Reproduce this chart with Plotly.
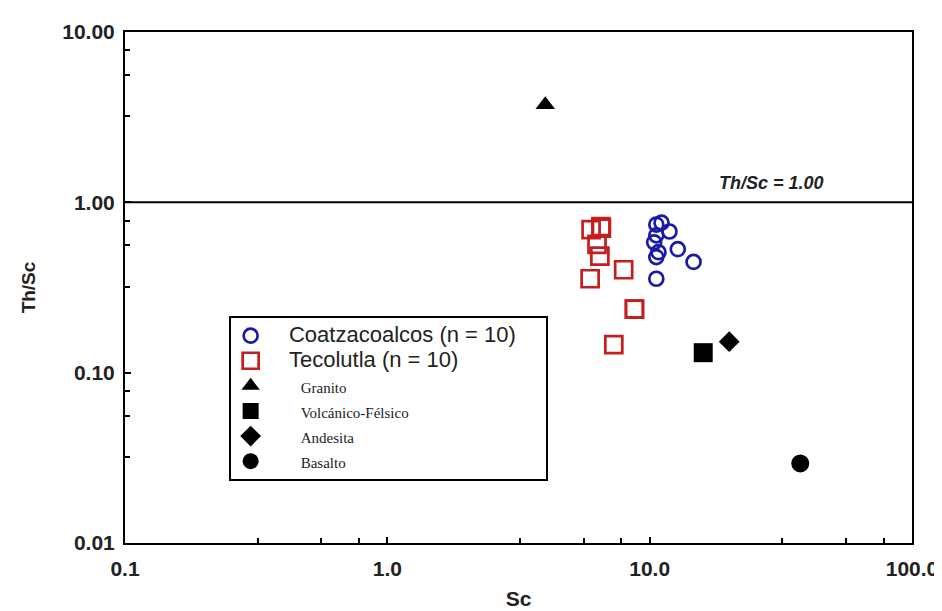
import plotly.graph_objects as go

# Data
coatza_sc = [10.6, 11.1, 11.9, 10.6, 10.4, 12.8, 10.6, 14.7, 10.6, 10.8]
coatza_thsc = [0.74, 0.76, 0.674, 0.64, 0.582, 0.531, 0.477, 0.447, 0.356, 0.51]

teco_sc = [5.98, 6.52, 6.55, 6.30, 6.46, 7.96, 5.93, 8.75, 8.75, 7.30]
teco_thsc = [0.692, 0.72, 0.705, 0.567, 0.483, 0.402, 0.356, 0.236, 0.236, 0.146]

ref_names = ["Granito", "Volcánico-Félsico", "Andesita", "Basalto"]
ref_sc = [4.0, 16.0, 20.1, 37.5]
ref_thsc = [3.74, 0.131, 0.152, 0.0293]
ref_symbols = ["triangle-up", "square", "diamond", "circle"]
ref_sizes = [17, 19, 16, 18]

x_tickvals = [0.1, 1, 10, 100]
x_ticktext = ["0.1", "1.0", "10.0", "100.0"]
y_tickvals = [0.01, 0.1, 1, 10]
y_ticktext = ["0.01", "0.10", "1.00", "10.00"]
minor_factors = [3.2, 5.6, 7.8]

NB = "&nbsp;"


def big(name):
    return f'<span style="font-size:22px">{NB*3}{name}{NB*4}</span>'


def small(name):
    return f'<span style="font-family:Liberation Serif;font-size:15px">{NB*8}{name}</span>'


fig = go.Figure()

fig.add_trace(go.Scatter(
    x=coatza_sc, y=coatza_thsc, mode="markers", name=big("Coatzacoalcos (n = 10)"),
    marker=dict(symbol="circle-open", size=14, color="#1a1aa8", line=dict(width=2.7, color="#1a1aa8")),
))
fig.add_trace(go.Scatter(
    x=teco_sc, y=teco_thsc, mode="markers", name=big("Tecolutla (n = 10)"),
    marker=dict(symbol="square-open", size=17, color="#c41e1e", line=dict(width=2.7, color="#c41e1e")),
))
for n, xs, ys, sym, sz in zip(ref_names, ref_sc, ref_thsc, ref_symbols, ref_sizes):
    fig.add_trace(go.Scatter(
        x=[xs], y=[ys], mode="markers", name=small(n),
        marker=dict(symbol=sym, size=sz, color="black"),
    ))

# Th/Sc = 1 reference line
fig.add_shape(type="line", xref="paper", x0=0, x1=1, yref="y", y0=1, y1=1,
              line=dict(color="black", width=2))
fig.add_annotation(x=0.822, xref="paper", xanchor="center", y=0, yref="y", yshift=7,
                   text="<b><i>Th/Sc = 1.00</i></b>", showarrow=False,
                   font=dict(family="Liberation Sans", size=18, color="#222"),
                   yanchor="bottom")

minor_x = [f * 10 ** e for e in (-1, 0, 1) for f in minor_factors]
minor_y = [f * 10 ** e for e in (-2, -1, 0) for f in minor_factors]

axis_common = dict(
    type="log", showgrid=False, zeroline=False, showline=True, linecolor="black",
    linewidth=2, mirror=True, ticks="inside", ticklen=6, tickwidth=1.5, tickcolor="black",
    tickfont=dict(family="Liberation Sans", size=21, color="#222", weight="bold"),
)

fig.update_xaxes(
    **axis_common, range=[-1, 2], tickvals=x_tickvals, ticktext=x_ticktext,
    ticklabelstandoff=6,
    minor=dict(tickvals=minor_x, ticks="inside", ticklen=5, tickcolor="black"),
    title=dict(text="<b>Sc</b>", font=dict(family="Liberation Sans", size=21, color="#222"), standoff=12),
)
fig.update_yaxes(
    **axis_common, range=[-2, 1], tickvals=y_tickvals, ticktext=y_ticktext,
    ticklabelstandoff=4,
    minor=dict(tickvals=minor_y, ticks="inside", ticklen=5, tickcolor="black"),
    title=dict(text="<b>Th/Sc</b>", font=dict(family="Liberation Sans", size=19, color="#222"), standoff=22),
)

fig.update_layout(
    width=942, height=611,
    margin=dict(l=117, r=28, t=19, b=72),
    plot_bgcolor="white", paper_bgcolor="white",
    legend=dict(
        x=0.1317, y=0.444, xanchor="left", yanchor="top",
        bordercolor="black", borderwidth=2, bgcolor="white",
        font=dict(family="Liberation Sans", size=17, color="#222"),
        itemsizing="trace", tracegroupgap=0,
    ),
)

fig.write_html("out.html")
